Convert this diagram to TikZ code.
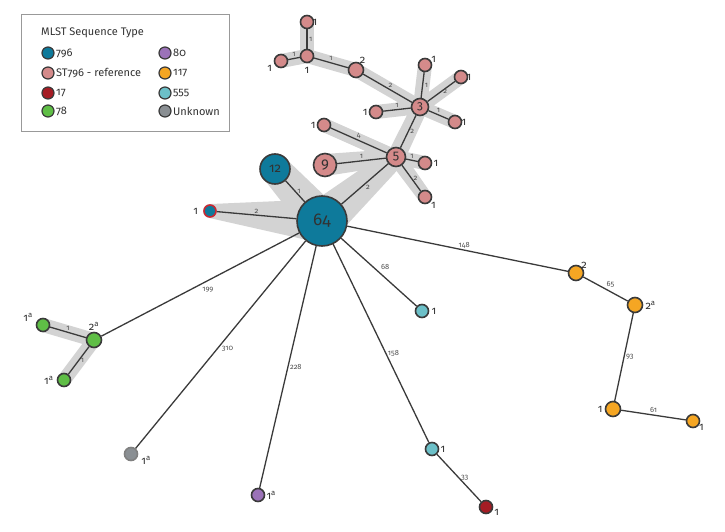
\documentclass[tikz,border=0pt]{standalone}
\usepackage{fontspec}
\setmainfont{Fira Sans}[Numbers=OldStyle]
\usetikzlibrary{calc}
\pgfdeclarelayer{bg}
\pgfsetlayers{bg,main}
\definecolor{cBlue}{RGB}{14,122,155}
\definecolor{cRef}{RGB}{212,138,138}
\definecolor{cSeventeen}{RGB}{165,28,36}
\definecolor{cGreen}{RGB}{95,190,70}
\definecolor{cPurple}{RGB}{155,114,184}
\definecolor{cOrange}{RGB}{245,166,35}
\definecolor{cCyan}{RGB}{108,192,200}
\definecolor{cGray}{RGB}{138,143,147}
\definecolor{bord}{RGB}{58,58,58}
\definecolor{haloc}{RGB}{211,211,211}
\definecolor{labc}{RGB}{50,50,50}
\definecolor{elc}{RGB}{80,80,80}
\definecolor{redbord}{RGB}{200,40,50}
\newcommand\halo[4]{%
  \fill[haloc] ($(#1)!#3!90:(#2)$) -- ($(#2)!#4!-90:(#1)$) -- ($(#2)!#4!90:(#1)$) -- ($(#1)!#3!-90:(#2)$) -- cycle;
  \fill[haloc] (#1) circle (#3);
  \fill[haloc] (#2) circle (#4);}
\begin{document}
\begin{tikzpicture}[x=1pt,y=-1pt,
  nd/.style={circle,draw=bord,line width=1.6pt,inner sep=0pt,text=labc},
  sm/.style={nd,minimum size=13pt},
  md/.style={nd,minimum size=15pt},
  lbl/.style={font=\fontsize{11}{12}\selectfont,text=labc,inner sep=1pt},
  el/.style={font=\fontsize{7.5}{8}\selectfont,text=elc,inner sep=1.5pt},
  conn/.style={draw=bord,line width=1.3pt},
  lg/.style={circle,draw=bord,line width=1.2pt,inner sep=0pt,minimum size=12pt},
  lt/.style={font=\fontsize{11}{12}\selectfont,text=labc,anchor=west,inner sep=1pt}]
\useasboundingbox (0,0) rectangle (725,532);

% legend
\draw[draw=gray!80,line width=0.6pt] (21,14) rectangle (229,131);
\node[lt] (ltitle) at (40,33) {MLST Sequence Type};
\node[lg,fill=cBlue] (l1) at (48,53) {};
\node[lt] (l1t) at (55,53) {796};
\node[lg,fill=cRef] (l2) at (48,73) {};
\node[lt] (l2t) at (55,73) {ST796 - reference};
\node[lg,fill=cSeventeen] (l3) at (48,93) {};
\node[lt] (l3t) at (55,93) {17};
\node[lg,fill=cGreen] (l4) at (48,111) {};
\node[lt] (l4t) at (55,111) {78};
\node[lg,fill=cPurple] (l5) at (165,53) {};
\node[lt] (l5t) at (172,53) {80};
\node[lg,fill=cOrange] (l6) at (165,73) {};
\node[lt] (l6t) at (172,73) {117};
\node[lg,fill=cCyan] (l7) at (165,93) {};
\node[lt] (l7t) at (172,93) {555};
\node[lg,fill=cGray] (l8) at (165,111) {};
\node[lt] (l8t) at (172,111) {Unknown};

% nodes
\node[sm,fill=cRef,label={[lbl,label distance=-3pt]right:1}] (t1) at (307,22) {};
\node[sm,fill=cRef,label={[lbl,label distance=3pt]below:1}] (t2) at (307,56) {};
\node[sm,fill=cRef,label={[lbl,label distance=1pt]200:1}] (t3) at (281,61) {};
\node[md,fill=cRef,label={[lbl,label distance=-2pt]65:2}] (t4) at (356,70) {};
\node[nd,fill=cRef,minimum size=17pt,font=\fontsize{12}{12}\selectfont] (n3) at (420,107) {3};
\node[sm,fill=cRef,label={[lbl,label distance=-2pt]15:1}] (a) at (425,65) {};
\node[sm,fill=cRef,label={[lbl,label distance=-3pt]right:1}] (b) at (461,77) {};
\node[sm,fill=cRef,label={[lbl,label distance=0pt]left:1}] (c) at (376,112) {};
\node[sm,fill=cRef,label={[lbl,label distance=-2pt]right:1}] (d) at (455,122) {};
\node[nd,fill=cRef,minimum size=19pt,font=\fontsize{13}{13}\selectfont] (n5) at (396,157) {5};
\node[sm,fill=cRef,label={[lbl,label distance=0pt]left:1}] (e) at (324,125) {};
\node[nd,fill=cRef,minimum size=23pt,font=\fontsize{15}{15}\selectfont] (n9) at (325,165) {9};
\node[sm,fill=cRef,label={[lbl,label distance=0pt]right:1}] (f) at (425,163) {};
\node[sm,fill=cRef,label={[lbl,label distance=-1pt]-40:1}] (g) at (425,197) {};
\node[nd,fill=cBlue,minimum size=30pt,font=\fontsize{13}{13}\selectfont] (n12) at (275,169) {12};
\node[nd,fill=cBlue,minimum size=50pt,font=\fontsize{17}{17}\selectfont] (n64) at (322,221) {64};
\node[circle,draw=redbord,line width=1.6pt,inner sep=0pt,minimum size=12pt,fill=cBlue,label={[lbl,label distance=4pt]left:1}] (r1) at (210,211) {};
\node[md,fill=cOrange,label={[lbl,label distance=-3pt]40:2}] (o1) at (576,273) {};
\node[md,fill=cOrange,label={[lbl,label distance=1pt]right:2\textsuperscript{a}}] (o2) at (635,305) {};
\node[md,fill=cOrange,label={[lbl,label distance=1pt]left:1}] (o3) at (613,409) {};
\node[sm,fill=cOrange,label={[lbl,label distance=-2pt]-25:1}] (o4) at (693,421) {};
\node[sm,fill=cCyan,label={[lbl,label distance=1pt]right:1}] (cy1) at (422,311) {};
\node[sm,fill=cCyan,label={[lbl,label distance=0pt]right:1}] (cy2) at (432,449) {};
\node[sm,fill=cSeventeen,label={[lbl,label distance=0pt]-10:1}] (rd) at (486,507) {};
\node[sm,fill=cPurple,label={[lbl,label distance=0pt]right:1\textsuperscript{a}}] (pu) at (258,495) {};
\node[sm,fill=cGray,draw=gray,label={[lbl,label distance=2pt]-10:1\textsuperscript{a}}] (gy) at (131,454) {};
\node[sm,fill=cGreen,label={[lbl,label distance=2pt]165:1\textsuperscript{a}}] (g1) at (43,325) {};
\node[md,fill=cGreen,label={[lbl,label distance=0pt]above:2\textsuperscript{a}}] (g2) at (94,340) {};
\node[sm,fill=cGreen,label={[lbl,label distance=2pt]left:1\textsuperscript{a}}] (g3) at (64,380) {};

% halos
\begin{pgfonlayer}{bg}
\halo{t1}{t2}{7pt}{7pt}
\halo{t3}{t2}{7pt}{7pt}
\halo{t2}{t4}{7pt}{7pt}
\halo{t4}{n3}{7pt}{7pt}
\halo{n3}{a}{7pt}{7pt}
\halo{n3}{b}{7pt}{7pt}
\halo{n3}{c}{7pt}{7pt}
\halo{n3}{d}{7pt}{7pt}
\halo{n3}{n5}{8pt}{9pt}
\halo{n5}{e}{7pt}{7pt}
\halo{n5}{f}{7pt}{7pt}
\halo{n5}{g}{8pt}{7pt}
\halo{n5}{n9}{8pt}{11pt}
\halo{n64}{n5}{21pt}{10pt}
\halo{n64}{n12}{20pt}{15pt}
\halo{n64}{r1}{22pt}{7pt}
\halo{g1}{g2}{7pt}{7pt}
\halo{g2}{g3}{7pt}{7pt}
\end{pgfonlayer}

% connectors
\draw[conn] (t2) -- node[el,right] {1} (t1);
\draw[conn] (t3) -- node[el,above] {1} (t2);
\draw[conn] (t2) -- node[el,above] {1} (t4);
\draw[conn] (t4) -- node[el,above right,inner sep=0.5pt] {2} (n3);
\draw[conn] (n3) -- node[el,right] {1} (a);
\draw[conn] (n3) -- node[el,right] {2} (b);
\draw[conn] (n3) -- node[el,above] {1} (c);
\draw[conn] (n3) -- node[el,above] {1} (d);
\draw[conn] (n3) -- node[el,right] {2} (n5);
\draw[conn] (n5) -- node[el,above] {4} (e);
\draw[conn] (n5) -- node[el,above] {1} (n9);
\draw[conn] (n5) -- node[el,above] {1} (f);
\draw[conn] (n5) -- node[el,right] {2} (g);
\draw[conn] (n64) -- node[el,below right,inner sep=0.5pt] {2} (n5);
\draw[conn] (n64) -- node[el,right] {1} (n12);
\draw[conn] (n64) -- node[el,above] {2} (r1);
\draw[conn] (n64) -- node[el,pos=.53,above] {148} (o1);
\draw[conn] (o1) -- node[el,above right,inner sep=0.5pt] {65} (o2);
\draw[conn] (o2) -- node[el,right] {93} (o3);
\draw[conn] (o3) -- node[el,above] {61} (o4);
\draw[conn] (n64) -- node[el,above right] {68} (cy1);
\draw[conn] (n64) -- node[el,pos=.55,right] {158} (cy2);
\draw[conn] (cy2) -- node[el,right] {33} (rd);
\draw[conn] (n64) -- node[el,pos=.5,right] {228} (pu);
\draw[conn] (n64) -- node[el,pos=.52,right,inner sep=4pt] {310} (gy);
\draw[conn] (n64) -- node[el,pos=.5,below right] {199} (g2);
\draw[conn] (g1) -- node[el,above] {1} (g2);
\draw[conn] (g2) -- node[el,right] {1} (g3);
\end{tikzpicture}
\end{document}
